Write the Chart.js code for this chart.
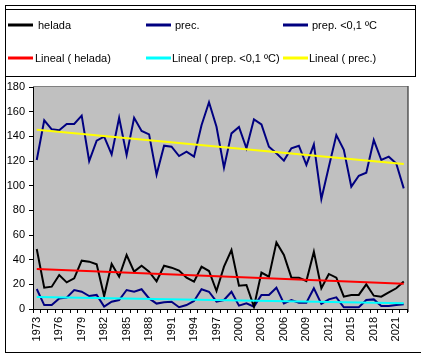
<!DOCTYPE html>
<html>
<head>
<meta charset="utf-8">
<script src="https://cdn.jsdelivr.net/npm/chart.js@4"></script>
<style>
  body { margin: 0; background: #fff; }
  #wrap { width: 421px; height: 358px; }
</style>
</head>
<body>
<div id="wrap"><canvas id="chart" width="421" height="358"></canvas></div>
<script>
// values
const years = ['1973','1974','1975','1976','1977','1978','1979','1980','1981','1982',
  '1983','1984','1985','1986','1987','1988','1989','1990','1991','1992',
  '1993','1994','1995','1996','1997','1998','1999','2000','2001','2002',
  '2003','2004','2005','2006','2007','2008','2009','2010','2011','2012',
  '2013','2014','2015','2016','2017','2018','2019','2020','2021','2022'];

const helada = [48.6,17.3,18.1,27.6,21.6,24.9,39.2,38.4,36.2,10.5,
  36.5,26.2,43.8,30.3,35.1,30.3,22.5,35.1,33.5,31.1,
  25.4,22.2,34.3,30.8,14.6,34.3,47.8,18.9,19.5,1.9,
  29.5,26.2,54,43.8,25.4,25.4,22.7,46.5,16.8,28.4,
  25.4,10,11.4,11.4,20,10.8,10,13.5,16.8,22.2];

const prec = [120.8,153,145.7,145,150,150,156.8,120,136.5,139.7,
  125.4,155,124.9,155,144.3,141.6,109,132.4,131.6,124,
  127.6,123.5,149,167.6,147.8,114.6,142.4,147.6,130.3,153.8,
  149.7,131.6,126.2,120.3,130.3,132.4,116.8,133.5,89.2,115.4,
  141,129,99.2,108,110.5,137,120.8,123.5,118,97.8];

const prep01 = [16.2,3.2,3.2,8.6,9.2,15.4,14,10.5,11.4,1.9,
  5.9,7.3,15.4,14,16,8.6,4.4,5.4,5.9,1.4,
  3.2,6.5,16,14,5.9,7.3,14,2.7,4.6,1.9,
  11.4,11.4,17.3,4.6,7.3,5.1,5.1,16.8,4.1,7.8,
  9.5,1.4,1.4,1.4,7.3,7.8,2.4,2.4,3.2,3.8];

// trend lines: value at first and last year
const trendHelada = [32.4, 20.5];
const trendPrep01 = [9.7, 4.6];
const trendPrec = [145.4, 117.6];

function trendSeries(ends) {
  const a = years.map(() => null);
  a[0] = ends[0];
  a[a.length - 1] = ends[1];
  return a;
}

Chart.defaults.font.family = '"Liberation Sans", Arial, sans-serif';
Chart.defaults.font.size = 11;
Chart.defaults.color = '#000';

const line = (label, data, color, order, trend) => ({
  label, data, borderColor: color, backgroundColor: color,
  borderWidth: 2, pointRadius: 0, tension: 0, order,
  spanGaps: !!trend,
});

// legend slots: line start, y, text start
const legendSlots = [
  { x: 8, y: 25, tx: 38 }, { x: 146, y: 25, tx: 175 }, { x: 283, y: 25, tx: 312 },
  { x: 8, y: 58, tx: 35 }, { x: 146, y: 58, tx: 172 }, { x: 283, y: 58, tx: 309 },
];

const excelLook = {
  id: 'excelLook',
  beforeDraw(chart) {
    const { ctx, chartArea: a } = chart;
    ctx.save();
    ctx.fillStyle = '#C0C0C0';
    ctx.fillRect(a.left, a.top, a.right - a.left, a.bottom - a.top);
    ctx.restore();
  },
  afterDraw(chart) {
    const { ctx, chartArea: a } = chart;
    ctx.save();
    ctx.lineWidth = 1;
    // plot border top / right
    ctx.strokeStyle = '#808080';
    ctx.beginPath();
    ctx.moveTo(a.left, a.top - 0.5); ctx.lineTo(a.right, a.top - 0.5);
    ctx.stroke();
    ctx.strokeStyle = '#000';
    ctx.beginPath();
    ctx.moveTo(a.right + 0.5, a.top - 1); ctx.lineTo(a.right + 0.5, a.bottom + 3);
    ctx.stroke();
    // outer frame and legend box
    ctx.beginPath();
    ctx.moveTo(5, 5.5); ctx.lineTo(415.5, 5.5);
    ctx.moveTo(5, 9.5); ctx.lineTo(415.5, 9.5);
    ctx.moveTo(5, 76.5); ctx.lineTo(415.5, 76.5);
    ctx.moveTo(5.5, 5); ctx.lineTo(5.5, 352.5);
    ctx.moveTo(415.5, 5); ctx.lineTo(415.5, 77);
    ctx.moveTo(5, 352.5); ctx.lineTo(421, 352.5);
    ctx.stroke();
    // legend
    ctx.font = '11px "Liberation Sans", Arial, sans-serif';
    ctx.textBaseline = 'middle';
    ctx.fillStyle = '#000';
    chart.data.datasets.forEach((ds, i) => {
      const s = legendSlots[i];
      ctx.strokeStyle = ds.borderColor;
      ctx.lineWidth = 3;
      ctx.beginPath();
      ctx.moveTo(s.x, s.y); ctx.lineTo(s.x + 25, s.y);
      ctx.stroke();
      ctx.fillText(ds.label, s.tx, s.y + 1);
    });
    ctx.restore();
  },
};

new Chart(document.getElementById('chart'), {
  type: 'line',
  data: {
    labels: years,
    datasets: [
      line('helada', helada, '#000000', 1),
      line('prec.', prec, '#000080', 1),
      line('prep. <0,1 ºC', prep01, '#000080', 1),
      line('Lineal ( helada)', trendSeries(trendHelada), '#FF0000', 0, true),
      line('Lineal ( prep. <0,1 ºC)', trendSeries(trendPrep01), '#00FFFF', 0, true),
      line('Lineal ( prec.)', trendSeries(trendPrec), '#FFFF00', 0, true),
    ],
  },
  options: {
    responsive: false,
    animation: false,
    layout: { padding: { top: 87, right: 6, left: 0, bottom: 0 } },
    plugins: { legend: { display: false }, tooltip: { enabled: false } },
    scales: {
      x: {
        offset: true,
        grid: { offset: true, drawOnChartArea: false, drawTicks: true, tickLength: 4, color: '#000' },
        border: { color: '#000', width: 1 },
        ticks: {
          autoSkip: false, minRotation: 90, maxRotation: 90, padding: 4,
          callback: (v, i) => (i % 3 === 0 ? years[i] : ''),
        },
        afterFit: s => { s.height = 49; },
      },
      y: {
        min: 0, max: 180,
        grid: { drawOnChartArea: false, drawTicks: true, tickLength: 4, color: '#000' },
        border: { color: '#000', width: 1 },
        ticks: { stepSize: 20, padding: 4 },
        afterFit: s => { s.width = 33; },
      },
    },
  },
  plugins: [excelLook],
});
</script>
</body>
</html>
